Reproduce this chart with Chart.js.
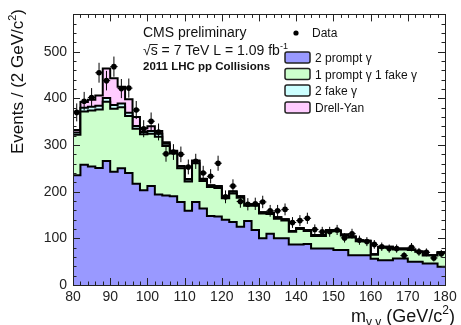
<!DOCTYPE html>
<html><head><meta charset="utf-8">
<script src="https://cdn.jsdelivr.net/npm/chart.js@4/dist/chart.umd.min.js"></script>
<style>html,body{margin:0;padding:0;background:#fff}#wrap{position:relative;width:461px;height:325px}</style>
</head><body><div id="wrap"><canvas id="c" width="461" height="325" style="width:461px;height:325px"></canvas></div>
<script>
// ---- data (events per 2 GeV bin) ----
const binLow = [80,82,84,86,88,90,92,94,96,98,100,102,104,106,108,110,112,114,116,118,120,122,124,126,128,130,132,134,136,138,140,142,144,146,148,150,152,154,156,158,160,162,164,166,168,170,172,174,176,178];
const binWidth = 2;
const twoPrompt = [235,258,254,251,266,243,250,240,217,203,212,194,192,190,178,159,178,164,148,147,140,135,125,137,118,100,110,100,100,87,87,88,78,78,78,75,75,64,64,64,56,53,53,57,57,50,50,46,46,39];
const onePromptOneFake = [87,114,120,125,127,135,131,122,118,120,112,124,106,92,72,63,83,59,62,61,46,61,62,33,52,53,42,42,38,27,33,28,27,27,38,40,31,38,30,29,9,27,27,19,19,25,21,17,17,30];
const twoFake = [5,8,8,8,8,8,8,7,6,5,6,6,5,4,4,4,5,4,3,3,3,4,3,3,3,3,3,3,3,2,2,2,2,2,2,2,2,2,2,2,1,2,2,2,2,1,1,1,1,1];
const drellYan = [5,12,15,22,63,57,36,29,19,8,10,6,3,2,1,1,1,1,1,1,1,1,0,0,0,0,0,0,0,0,0,0,0,0,0,0,0,0,0,0,0,0,0,0,0,0,0,0,0,0];
const dataCounts = [370,394,402,455,438,468,421,422,375,335,351,328,281,285,280,253,265,240,233,261,189,212,179,173,174,178,159,159,162,134,138,143,119,114,114,118,101,110,96,93,87,82,78,78,63,81,71,70,58,67];
const xTicks = [80,90,100,110,120,130,140,150,160,170,180];
const yTicks = [0,100,200,300,400,500];
const yMax = 580;
const seriesNames = ['2 prompt \u03b3','1 prompt \u03b3 1 fake \u03b3','2 fake \u03b3','Drell-Yan'];
const seriesColors = ['#9999ff','#ccffcc','#ccffff','#ffccff'];

const FONT = '"Liberation Sans", Arial, Helvetica, sans-serif';

function stepPoints(vals){
  const pts = [{x: binLow[0], y: vals[0]}];
  binLow.forEach((x,i)=>pts.push({x: x + binWidth, y: vals[i]}));
  return pts;
}
function stackDs(label, vals, color, fill){
  return {label, data: stepPoints(vals), stepped:'after', backgroundColor: color, borderColor:'#000',
    borderWidth:2, pointRadius:0, fill, tension:0, stack:'mc'};
}

function drawRich(ctx, pieces, x, y, align){
  let w = 0;
  pieces.forEach(p=>{ ctx.font = (p.bold?'bold ':'')+p.size+'px '+FONT; p.w = ctx.measureText(p.t).width; w += p.w; });
  let cx = align==='right' ? x - w : x;
  pieces.forEach(p=>{ ctx.font = (p.bold?'bold ':'')+p.size+'px '+FONT; ctx.fillText(p.t, cx, y + (p.dy||0)); p.x = cx; cx += p.w; });
  return pieces;
}

const decor = {
  id:'decor',
  afterDatasetsDraw(chart){
    const {ctx, scales:{x,y}} = chart;
    ctx.save(); ctx.strokeStyle='#000'; ctx.lineWidth=1;
    dataCounts.forEach((n,i)=>{
      const xl=x.getPixelForValue(binLow[i]), xr=x.getPixelForValue(binLow[i]+binWidth), xc=x.getPixelForValue(binLow[i]+binWidth/2);
      const yc=y.getPixelForValue(n), e=Math.sqrt(n);
      ctx.beginPath();
      ctx.moveTo(xl,yc); ctx.lineTo(xr,yc);
      ctx.moveTo(xc,y.getPixelForValue(n+e)); ctx.lineTo(xc,y.getPixelForValue(n-e));
      ctx.stroke();
    });
    ctx.restore();
  },
  afterDraw(chart){
    const {ctx, chartArea:a, scales:{x,y}} = chart;
    ctx.save();
    ctx.strokeStyle='#222'; ctx.lineWidth=1;
    ctx.strokeRect(Math.round(a.left)+0.5, Math.round(a.top)+0.5, Math.round(a.right-a.left), Math.round(a.bottom-a.top));
    ctx.beginPath();
    for(let v=binLow[0]; v<=binLow[binLow.length-1]+binWidth; v+=binWidth){
      const px=Math.round(x.getPixelForValue(v))+0.5;
      const L = xTicks.includes(v)?7:3.5;
      ctx.moveTo(px,a.bottom); ctx.lineTo(px,a.bottom-L);
      ctx.moveTo(px,a.top); ctx.lineTo(px,a.top+L);
    }
    for(let v=0; v<=yMax; v+=20){
      const py=Math.round(y.getPixelForValue(v))+0.5;
      const L = yTicks.includes(v)?7:3.5;
      ctx.moveTo(a.left,py); ctx.lineTo(a.left+L,py);
      ctx.moveTo(a.right,py); ctx.lineTo(a.right-L,py);
    }
    ctx.stroke();
    ctx.fillStyle='#111'; ctx.textBaseline='alphabetic';
    drawRich(ctx,[{t:'m',size:18},{t:'\u03b3 \u03b3',size:12,dy:4},{t:' (GeV/c',size:18},{t:'2',size:12,dy:-8},{t:')',size:18}],455,322,'right');
    ctx.save(); ctx.translate(23,9); ctx.rotate(-Math.PI/2);
    drawRich(ctx,[{t:'Events / (2 GeV/c',size:17},{t:'2',size:11,dy:-7},{t:')',size:17}],0,0,'right');
    ctx.restore();
    drawRich(ctx,[{t:'CMS preliminary',size:14}],143,37,'left');
    const p = drawRich(ctx,[{t:'\u221a',size:14},{t:'s',size:14},{t:' = 7 TeV L = 1.09 fb',size:14},{t:'-1',size:9,dy:-6}],143,55,'left');
    ctx.beginPath(); ctx.lineWidth=1; ctx.moveTo(p[1].x-1,44.5); ctx.lineTo(p[1].x+p[1].w,44.5); ctx.stroke();
    drawRich(ctx,[{t:'2011 LHC pp Collisions',size:11.5,bold:true}],143,70,'left');
    ctx.fillStyle='#000'; ctx.beginPath(); ctx.arc(296,33,2.6,0,Math.PI*2); ctx.fill();
    ctx.fillStyle='#111';
    drawRich(ctx,[{t:'Data',size:12}],312,37,'left');
    const boxY=[52,68.5,85,102];
    seriesNames.forEach((nm,i)=>{
      ctx.fillStyle=seriesColors[i];
      ctx.beginPath(); ctx.roundRect(285,boxY[i],25,11,2); ctx.fill();
      ctx.strokeStyle='#222'; ctx.lineWidth=1.5; ctx.stroke();
      ctx.fillStyle='#111';
      drawRich(ctx,[{t:nm,size:12}],315,boxY[i]+10,'left');
    });
    ctx.restore();
  }
};

new Chart(document.getElementById('c'),{
  type:'line',
  data:{datasets:[
    {label:'Data', data: dataCounts.map((n,i)=>({x:binLow[i]+binWidth/2,y:n})), showLine:false,
     pointRadius:2.8, pointBackgroundColor:'#000', pointBorderColor:'#000', pointBorderWidth:0, stack:'data', fill:false},
    stackDs(seriesNames[0], twoPrompt, seriesColors[0], 'origin'),
    stackDs(seriesNames[1], onePromptOneFake, seriesColors[1], '-1'),
    stackDs(seriesNames[2], twoFake, seriesColors[2], '-1'),
    stackDs(seriesNames[3], drellYan, seriesColors[3], '-1')
  ]},
  options:{
    responsive:false, animation:false, devicePixelRatio:1,
    layout:{padding:{left:0,right:16,top:13,bottom:0}},
    plugins:{legend:{display:false},tooltip:{enabled:false}},
    scales:{
      x:{type:'linear',min:80,max:180,
        grid:{display:false,drawTicks:false},border:{display:false},
        afterFit:s=>{s.height=40;},
        afterBuildTicks:s=>{s.ticks=xTicks.map(v=>({value:v}));},
        ticks:{padding:4,color:'#222',font:{family:FONT,size:14},maxRotation:0,autoSkip:false}},
      y:{min:0,max:yMax,stacked:true,
        grid:{display:false,drawTicks:false},border:{display:false},
        afterFit:s=>{s.width=73;},
        afterBuildTicks:s=>{s.ticks=yTicks.map(v=>({value:v}));},
        ticks:{padding:6,color:'#222',font:{family:FONT,size:14}}}
    }
  },
  plugins:[decor]
});
</script></body></html>
